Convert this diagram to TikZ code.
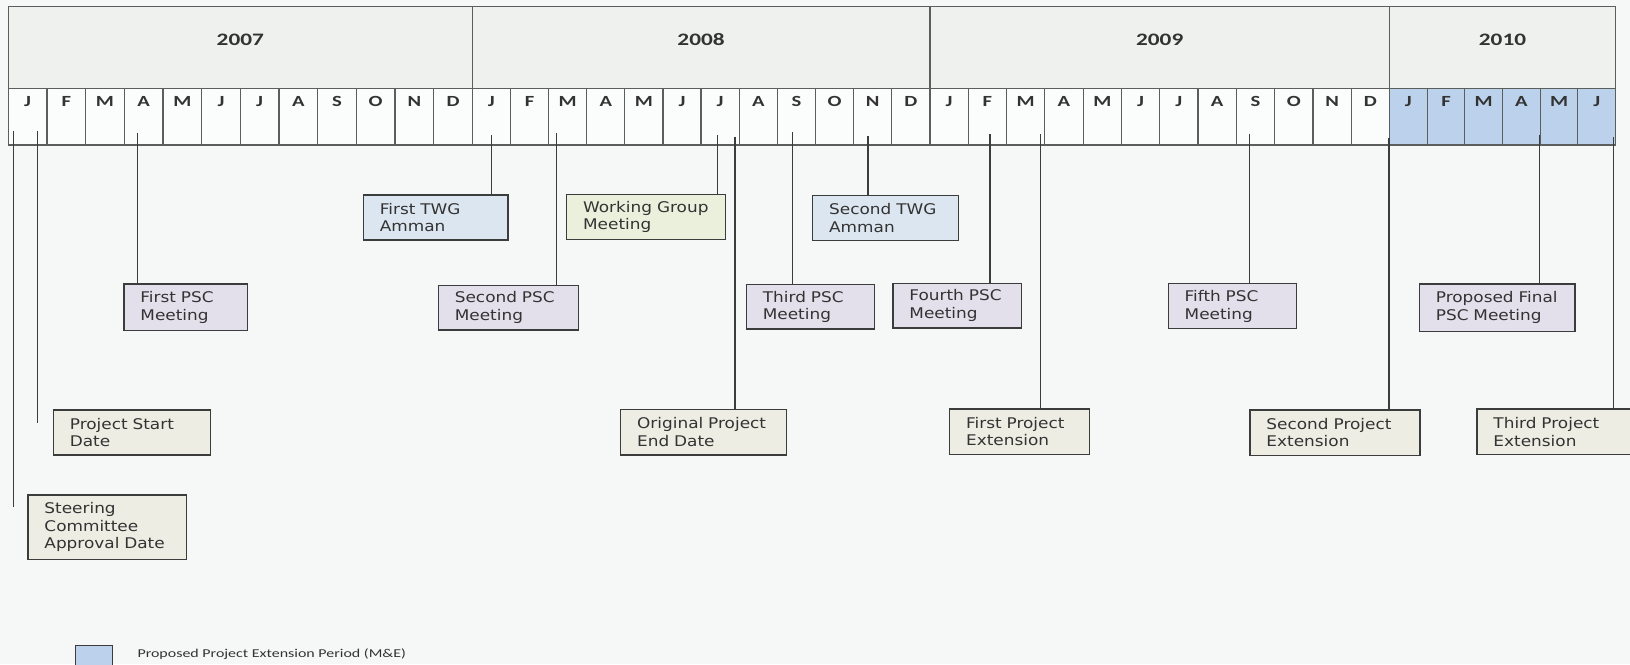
\documentclass[tikz,border=0pt]{standalone}
\usepackage{fontspec}
\newfontfamily\boxfont{DejaVu Sans}[FakeStretch=1.15]
\newfontfamily\calfont{Carlito}[FakeStretch=1.33]
\definecolor{paper}{HTML}{F6F8F7}
\definecolor{yearbg}{HTML}{EEF1ED}
\definecolor{cellbg}{HTML}{FBFCFC}
\definecolor{extblue}{HTML}{BCD2EC}
\definecolor{gridc}{HTML}{5A5F5C}
\definecolor{linec}{HTML}{3A3D3C}
\definecolor{tanfill}{HTML}{EEEDE3}
\definecolor{twgfill}{HTML}{DCE6F0}
\definecolor{wgfill}{HTML}{EBF0DD}
\definecolor{pscfill}{HTML}{E4E0EB}
\definecolor{inkc}{HTML}{333333}
\begin{document}
\begin{tikzpicture}[x=1pt, y=-1pt,
    evt/.code 2 args = {\pgfmathsetmacro\tw{#1-33}%
      \edef\evtopts{\noexpand\tikzset{minimum width=#1pt, minimum height=#2pt, text width=\tw pt}}\evtopts},
    box/.style = {shape=rectangle, draw=linec, line width=1.3pt, align=left,
      anchor=north west, inner xsep=16.5pt, inner ysep=0pt, text=inkc,
      font=\boxfont\fontsize{14.7}{17.7}\selectfont},
    tanbox/.style = {box, fill=tanfill},
    twgbox/.style = {box, fill=twgfill},
    wgbox/.style = {box, fill=wgfill},
    pscbox/.style = {box, fill=pscfill},
    yearlbl/.style = {anchor=base, inner sep=0pt, text=inkc,
      font=\calfont\bfseries\fontsize{17.5}{20}\selectfont},
    monthlbl/.style = {anchor=base, inner sep=0pt, text=inkc,
      font=\calfont\bfseries\fontsize{15.5}{18}\selectfont},
    tblline/.style = {draw=gridc, line width=1.2pt},
    evline/.style = {draw=linec, line width=1.5pt}]
  \useasboundingbox (0,0) rectangle (1630,664);
  \fill[paper] (0,0) rectangle (1630,664);

  % header: years and months
  \fill[yearbg] (8.3,6.7) rectangle (1615.5,88.5);
  \fill[cellbg] (8.3,88.5) rectangle (1389.5,145);
  \fill[extblue] (1389.5,88.5) rectangle (1615.5,145);
  \foreach \yr/\xs/\mw/\nm in {2007/8.3/38.67/12, 2008/472.3/38.13/12,
                               2009/929.9/38.3/12, 2010/1389.5/37.67/6} {
    \node[yearlbl] (y\yr) at ({\xs+\nm*\mw/2},45.3) {\yr};
    \draw[tblline] (\xs,6.7) -- (\xs,145);
    \foreach \m [count=\i from 0] in {J,F,M,A,M,J,J,A,S,O,N,D} {
      \ifnum\i<\nm
        \node[monthlbl] (m\yr-\i) at ({\xs+(\i+0.5)*\mw},106) {\m};
        \ifnum\i>0 \draw[tblline] ({\xs+\i*\mw},88.5) -- ({\xs+\i*\mw},145); \fi
      \fi
    }
  }
  \draw[tblline] (8.3,6.7) rectangle (1615.5,145);
  \draw[tblline] (8.3,88.5) -- (1615.5,88.5);

  % events
  \node[tanbox, evt={158.4}{64.4}] (steer) at (27.3,494.3) {Steering\\Committee\\Approval Date};
  \node[tanbox, evt={157.3}{45}] (start) at (52.7,409.3) {Project Start\\Date};
  \node[pscbox, evt={123.7}{46.7}] (psc1) at (123.3,283.3) {First PSC\\Meeting};
  \node[twgbox, evt={144.6}{45}] (twg1) at (362.7,194.3) {First TWG\\Amman};
  \node[pscbox, evt={140.3}{44.6}] (psc2) at (437.7,284.7) {Second PSC\\Meeting};
  \node[wgbox, evt={159}{45.3}] (wg) at (566,193.7) {Working Group\\Meeting};
  \node[tanbox, evt={165.7}{45.3}] (orig) at (620,409) {Original Project\\End Date};
  \node[pscbox, evt={128.3}{44.3}] (psc3) at (745.7,284) {Third PSC\\Meeting};
  \node[twgbox, evt={145.7}{45}] (twg2) at (812,195) {Second TWG\\Amman};
  \node[pscbox, evt={128.2}{44.6}] (psc4) at (892.3,282.7) {Fourth PSC\\Meeting};
  \node[tanbox, evt={139.7}{45.4}] (ext1) at (949,408.3) {First Project\\Extension};
  \node[pscbox, evt={128.2}{45}] (psc5) at (1167.5,283) {Fifth PSC\\Meeting};
  \node[tanbox, evt={170}{45.4}] (ext2) at (1249.3,409.3) {Second Project\\Extension};
  \node[pscbox, evt={155.6}{47.4}] (pscF) at (1418.7,283.3) {Proposed Final\\PSC Meeting};
  \node[tanbox, evt={160}{45.7}] (ext3) at (1476.3,408.3) {Third Project\\Extension};

  \foreach \n/\x/\t in {psc1/137.7/132.7, twg1/491.5/135, psc2/556.7/133.3, wg/717.7/135,
      orig/735/136.7, psc3/792.7/132.3, twg2/868/136, psc4/990/134, ext1/1040.7/134,
      psc5/1249.3/133.5, ext2/1389/138, pscF/1539.7/134.5, ext3/1613.7/137}
    \draw[evline] (\x,\t) coordinate (\n-top) -- (\n-top |- \n.north);
  \coordinate (steer-top) at (13.3,130.7);
  \coordinate (steer-end) at (13.3,507);
  \coordinate (start-top) at (37.5,130.7);
  \coordinate (start-end) at (37.5,423);
  \draw[evline] (steer-top) -- (steer-end);
  \draw[evline] (start-top) -- (start-end);

  % legend
  \node[draw=linec, line width=1.2pt, fill=extblue, anchor=north west, inner sep=0pt,
    minimum width=36.7pt, minimum height=24pt] (key) at (75,645) {};
  \node[anchor=base west, inner sep=0pt, text=inkc, font=\calfont\fontsize{12}{14}\selectfont]
    (keytxt) at (137.3,657.3) {Proposed Project Extension Period (M\&E)};
\end{tikzpicture}
\end{document}
